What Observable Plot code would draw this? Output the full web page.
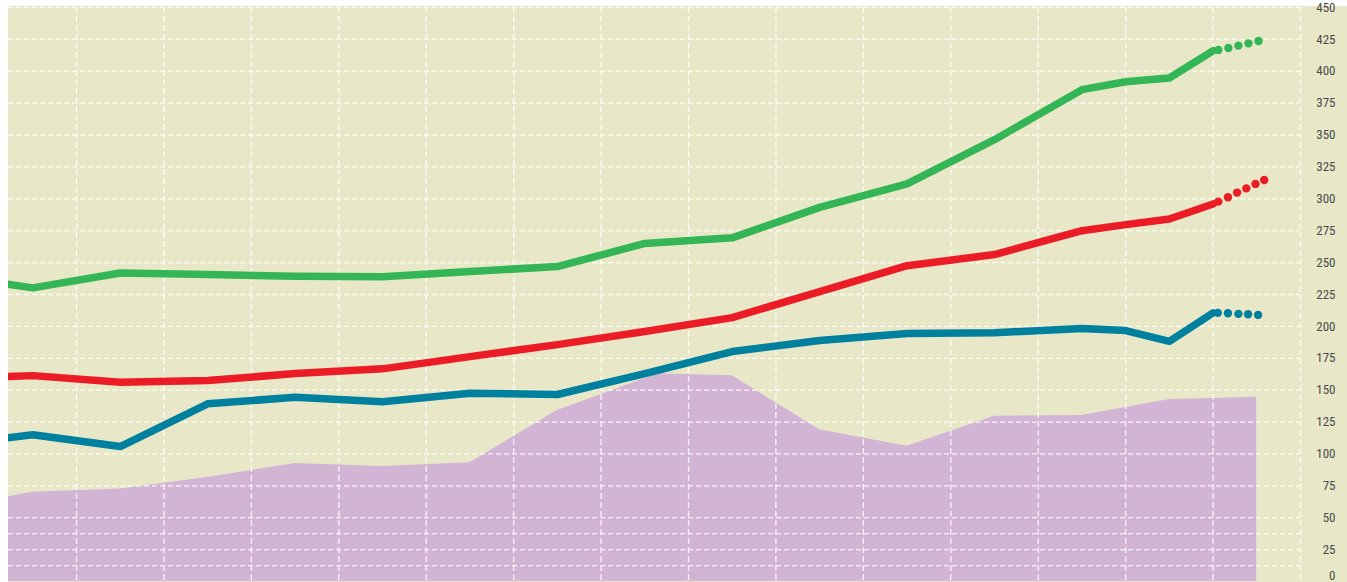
<!DOCTYPE html>
<html>
<head>
<meta charset="utf-8">
<script src="https://cdn.jsdelivr.net/npm/d3@7"></script>
<script src="https://cdn.jsdelivr.net/npm/@observablehq/plot@0.6"></script>
<style>
  html, body { margin: 0; padding: 0; background: #ffffff; overflow: hidden; }
  #chart svg {
    display: block;
    background: linear-gradient(#e8e8c8, #e8e8c8) no-repeat 8px 6px / calc(100% - 8px) calc(100% - 6px) !important;
  }
</style>
</head>
<body>
<div id="chart"></div>
<script>
// ---- data ----
const lineYears  = [1990, 1991, 1993, 1995, 1997, 1999, 2001, 2003, 2005, 2007, 2009, 2011, 2013, 2015, 2016, 2017, 2018];
const greenVals  = [235.1, 230.2, 241.9, 240.6, 239.4, 239.0, 243.0, 246.9, 265.0, 269.4, 293.3, 311.7, 346.4, 385.6, 391.8, 394.7, 416.1];
const redVals    = [160.1, 161.4, 156.2, 157.5, 163.0, 166.7, 176.3, 185.7, 196.0, 206.9, 227.3, 247.6, 256.3, 275.0, 279.8, 284.2, 296.0];
const blueVals   = [111.0, 115.0, 105.8, 139.3, 144.4, 141.0, 147.6, 146.6, 163.0, 180.3, 188.9, 194.4, 195.1, 198.3, 196.7, 188.3, 210.6];

const areaYears  = [1990, 1991, 1993, 1995, 1997, 1999, 2001, 2003, 2005.3, 2007, 2009, 2011, 2013, 2015, 2017, 2018, 2019];
const purpleVals = [63.6, 70.0, 72.6, 81.5, 92.5, 90.1, 93.0, 134.0, 162.8, 161.4, 118.9, 106.0, 129.5, 130.1, 142.6, 143.4, 144.4];

// projected (dotted) ends
const greenProjYears = [2018.12, 2018.35, 2018.58, 2018.81, 2019.04];
const greenProjVals  = [416.7, 418.3, 420.1, 421.9, 423.7];
const redProjYears   = [2018.12, 2018.34, 2018.55, 2018.76, 2018.97, 2019.17];
const redProjVals    = [297.8, 301.2, 304.9, 308.2, 311.7, 314.8];
const blueProjYears  = [2018.11, 2018.34, 2018.58, 2018.80, 2019.03];
const blueProjVals   = [210.6, 210.3, 209.8, 209.5, 209.0];

// axis / grid
const yTickLabels = [0, 25, 50, 75, 100, 125, 150, 175, 200, 225, 250, 275, 300, 325, 350, 375, 400, 425, 450];
const hGridVals   = [12.5, 25, 37.5, 50, 75, 100, 125, 150, 175, 200, 225, 250, 275, 300, 325, 350, 375, 400, 425, 450];
const vGridYears  = [1992, 1994, 1996, 1998, 2000, 2002, 2004, 2006, 2008, 2010, 2012, 2014, 2016, 2018, 2020];

const rows = (xs, ys) => xs.map((x, i) => ({x, y: ys[i]}));

const GREEN = "#34b556", RED = "#ec1c27", BLUE = "#00809f", PURPLE = "#d2b4d4";
const LW = 7.5;

const chart = Plot.plot({
  width: 1347,
  height: 582,
  marginLeft: 8,
  marginRight: 47,
  marginTop: 7,
  marginBottom: 1,
  x: {domain: [1990.444, 2020], axis: null},
  y: {domain: [0, 450], axis: null},
  style: {
    fontFamily: "'Liberation Sans Narrow', 'Roboto Condensed', 'DejaVu Sans Condensed', 'Arial Narrow', sans-serif",
    fontSize: "13px",
    overflow: "visible"
  },
  marks: [
    Plot.areaY(rows(areaYears, purpleVals), {x: "x", y: "y", fill: PURPLE, clip: true}),
    Plot.ruleY(hGridVals, {stroke: "#ffffff", strokeWidth: 1.3, strokeOpacity: 0.85, strokeDasharray: "5,3"}),
    Plot.ruleX(vGridYears, {stroke: "#ffffff", strokeWidth: 1.3, strokeOpacity: 0.85, strokeDasharray: "6,3"}),
    Plot.line(rows(lineYears, greenVals), {x: "x", y: "y", stroke: GREEN, strokeWidth: LW, clip: true}),
    Plot.line(rows(lineYears, redVals),   {x: "x", y: "y", stroke: RED,   strokeWidth: LW, clip: true}),
    Plot.line(rows(lineYears, blueVals),  {x: "x", y: "y", stroke: BLUE,  strokeWidth: LW, clip: true}),
    Plot.dot(rows(greenProjYears, greenProjVals), {x: "x", y: "y", r: 4.2, fill: GREEN, stroke: null}),
    Plot.dot(rows(redProjYears, redProjVals),     {x: "x", y: "y", r: 4.2, fill: RED,   stroke: null}),
    Plot.dot(rows(blueProjYears, blueProjVals),   {x: "x", y: "y", r: 4.2, fill: BLUE,  stroke: null}),
    Plot.text(yTickLabels.filter(d => d > 0), {y: d => d, text: d => String(d), frameAnchor: "right", dx: 35, textAnchor: "end", fill: "#4a4a4a"}),
    Plot.text(yTickLabels.filter(d => d === 0), {y: d => d, text: d => String(d), frameAnchor: "right", dx: 35, dy: -6, textAnchor: "end", fill: "#4a4a4a"})
  ]
});
document.getElementById("chart").appendChild(chart);
</script>
</body>
</html>
